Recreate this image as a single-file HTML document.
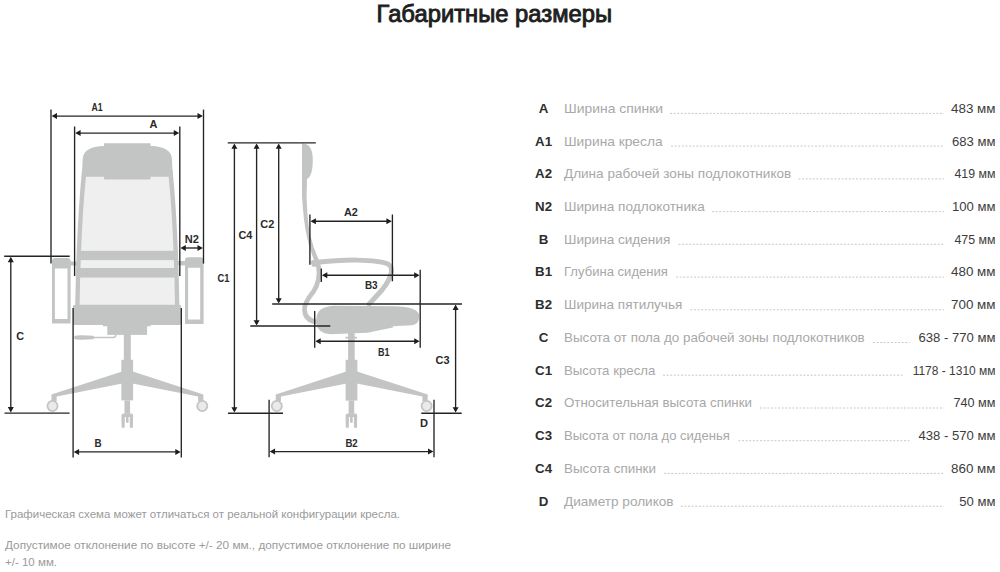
<!DOCTYPE html>
<html><head><meta charset="utf-8">
<style>
html,body{margin:0;padding:0;background:#fff;width:1000px;height:572px;overflow:hidden}
svg{display:block}
text{font-family:"Liberation Sans",sans-serif}
.title{font-size:23.5px;fill:#1e1e1e;stroke:#1e1e1e;stroke-width:0.9px}
.lab{font-weight:bold;font-size:13.3px;fill:#2e2e2e}
.desc{font-size:13.5px;fill:#a8a8a8}
.val{font-size:13px;fill:#3c3c3c}
.dots{stroke:#c9c9c9;stroke-width:1;stroke-dasharray:2 1.6}
.note{font-size:11.6px;fill:#9a9a9a}
.dl{font-weight:bold;font-size:11.5px;fill:#2a2a2a}
.ln{stroke:#242424;stroke-width:1.35;fill:none}
.ar{fill:#1e1e1e}
.ch{fill:#c3c5c5}
.chs{stroke:#c3c5c5;fill:none}
.mesh{fill:#efefef}
</style></head><body>
<svg width="1000" height="572" viewBox="0 0 1000 572">
<text x="376.6" y="21.8" class="title" textLength="235.5" lengthAdjust="spacingAndGlyphs">Габаритные размеры</text>
<text x="543.6" y="112.8" class="lab" text-anchor="middle">A</text>
<text x="564" y="112.8" class="desc" textLength="99.0" lengthAdjust="spacingAndGlyphs">Ширина спинки</text>
<line x1="670" y1="113.4" x2="944" y2="113.4" class="dots"/>
<text x="951" y="112.8" class="val" textLength="44.5" lengthAdjust="spacingAndGlyphs">483 мм</text>
<text x="543.6" y="145.5" class="lab" text-anchor="middle">A1</text>
<text x="564" y="145.5" class="desc" textLength="98.6" lengthAdjust="spacingAndGlyphs">Ширина кресла</text>
<line x1="671" y1="146.1" x2="944" y2="146.1" class="dots"/>
<text x="952" y="145.5" class="val" textLength="43.5" lengthAdjust="spacingAndGlyphs">683 мм</text>
<text x="543.6" y="178.3" class="lab" text-anchor="middle">A2</text>
<text x="564" y="178.3" class="desc" textLength="227.2" lengthAdjust="spacingAndGlyphs">Длина рабочей зоны подлокотников</text>
<line x1="798.4" y1="178.9" x2="944" y2="178.9" class="dots"/>
<text x="954.5" y="178.3" class="val" textLength="41.0" lengthAdjust="spacingAndGlyphs">419 мм</text>
<text x="543.6" y="211.0" class="lab" text-anchor="middle">N2</text>
<text x="564" y="211.0" class="desc" textLength="140.8" lengthAdjust="spacingAndGlyphs">Ширина подлокотника</text>
<line x1="712" y1="211.6" x2="944" y2="211.6" class="dots"/>
<text x="952" y="211.0" class="val" textLength="43.5" lengthAdjust="spacingAndGlyphs">100 мм</text>
<text x="543.6" y="243.7" class="lab" text-anchor="middle">B</text>
<text x="564" y="243.7" class="desc" textLength="106.3" lengthAdjust="spacingAndGlyphs">Ширина сидения</text>
<line x1="678.4" y1="244.3" x2="944" y2="244.3" class="dots"/>
<text x="954.5" y="243.7" class="val" textLength="41.0" lengthAdjust="spacingAndGlyphs">475 мм</text>
<text x="543.6" y="276.4" class="lab" text-anchor="middle">B1</text>
<text x="564" y="276.4" class="desc" textLength="103.9" lengthAdjust="spacingAndGlyphs">Глубина сидения</text>
<line x1="676" y1="277.1" x2="944" y2="277.1" class="dots"/>
<text x="951" y="276.4" class="val" textLength="44.5" lengthAdjust="spacingAndGlyphs">480 мм</text>
<text x="543.6" y="309.2" class="lab" text-anchor="middle">B2</text>
<text x="564" y="309.2" class="desc" textLength="118.3" lengthAdjust="spacingAndGlyphs">Ширина пятилучья</text>
<line x1="690.4" y1="309.8" x2="944" y2="309.8" class="dots"/>
<text x="951" y="309.2" class="val" textLength="44.5" lengthAdjust="spacingAndGlyphs">700 мм</text>
<text x="543.6" y="341.9" class="lab" text-anchor="middle">C</text>
<text x="564" y="341.9" class="desc" textLength="300.7" lengthAdjust="spacingAndGlyphs">Высота от пола до рабочей зоны подлокотников</text>
<line x1="872.9" y1="342.5" x2="909.8" y2="342.5" class="dots"/>
<text x="918.5" y="341.9" class="val" textLength="77.0" lengthAdjust="spacingAndGlyphs">638 - 770 мм</text>
<text x="543.6" y="374.6" class="lab" text-anchor="middle">C1</text>
<text x="564" y="374.6" class="desc" textLength="91.4" lengthAdjust="spacingAndGlyphs">Высота кресла</text>
<line x1="663" y1="375.2" x2="904" y2="375.2" class="dots"/>
<text x="912.7" y="374.6" class="val" textLength="82.8" lengthAdjust="spacingAndGlyphs">1178 - 1310 мм</text>
<text x="543.6" y="407.4" class="lab" text-anchor="middle">C2</text>
<text x="564" y="407.4" class="desc" textLength="187.9" lengthAdjust="spacingAndGlyphs">Относительная высота спинки</text>
<line x1="760" y1="408.0" x2="944" y2="408.0" class="dots"/>
<text x="953.5" y="407.4" class="val" textLength="42.0" lengthAdjust="spacingAndGlyphs">740 мм</text>
<text x="543.6" y="440.1" class="lab" text-anchor="middle">C3</text>
<text x="564" y="440.1" class="desc" textLength="165.8" lengthAdjust="spacingAndGlyphs">Высота от пола до сиденья</text>
<line x1="738.4" y1="440.7" x2="909.8" y2="440.7" class="dots"/>
<text x="918.5" y="440.1" class="val" textLength="77.0" lengthAdjust="spacingAndGlyphs">438 - 570 мм</text>
<text x="543.6" y="472.8" class="lab" text-anchor="middle">C4</text>
<text x="564" y="472.8" class="desc" textLength="91.9" lengthAdjust="spacingAndGlyphs">Высота спинки</text>
<line x1="664" y1="473.4" x2="944" y2="473.4" class="dots"/>
<text x="951" y="472.8" class="val" textLength="44.5" lengthAdjust="spacingAndGlyphs">860 мм</text>
<text x="543.6" y="505.6" class="lab" text-anchor="middle">D</text>
<text x="564" y="505.6" class="desc" textLength="109.6" lengthAdjust="spacingAndGlyphs">Диаметр роликов</text>
<line x1="680.8" y1="506.2" x2="944" y2="506.2" class="dots"/>
<text x="959.3" y="505.6" class="val" textLength="36.2" lengthAdjust="spacingAndGlyphs">50 мм</text>
<text x="5" y="517.5" class="note" textLength="395" lengthAdjust="spacingAndGlyphs">Графическая схема может отличаться от реальной конфигурации кресла.</text>
<text x="5" y="549" class="note" textLength="446" lengthAdjust="spacingAndGlyphs">Допустимое отклонение по высоте +/- 20 мм., допустимое отклонение по ширине</text>
<text x="5" y="566" class="note" textLength="52" lengthAdjust="spacingAndGlyphs">+/- 10 мм.</text>
<g class="ch">
<path d="M82,170 Q76.6,225 75.2,305.5 L179.4,305.5 Q178,225 172.6,170 Z"/>
</g>
<path class="mesh" d="M86,176 Q80.8,228 79.6,304.8 L175,304.8 Q173.8,228 168.6,176 Z"/>
<g class="ch">
<path d="M104,143.3 L150.6,143.3 L150.6,146 Q171.1,146.5 171.9,159 L172.8,176.8 L150.6,176.8 L150.4,179.4 L104.2,179.4 L104,176.8 L81.8,176.8 L82.7,159 Q83.5,146.5 104,146 Z"/>
<rect x="77" y="250.8" width="100.6" height="9.3"/>
<rect x="76.6" y="268" width="101.4" height="9.6"/>
<path d="M73.1,304.9 L180.9,304.9 L180.9,323.6 Q180.9,325.1 179.4,325.1 L150.7,325.1 L150.7,326.3 L103,326.3 L103,325.1 L74.6,325.1 Q73.1,325.1 73.1,323.6 Z"/>
<rect x="107.3" y="325" width="39.8" height="9.9"/>
<path d="M74.3,336.3 Q76,335.2 82,335.3 L93.5,335.8 L93.8,336.7 L113.5,336.7 Q115,336.5 115.4,334.5 L116.6,334.5 Q116.4,338 113.5,338.3 L93.8,338.3 L93.5,339.3 L82,339.8 Q76,339.9 74.3,338.8 Z"/>
<rect x="123.8" y="334" width="7" height="26.5"/>
<rect x="121.3" y="359.8" width="11.8" height="40.6"/>
<rect x="124.45" y="400.4" width="5.6" height="13.4"/><path d="M121.65,427.7 L121.45,415.6 Q121.45,413.4 123.45,413.4 L131.05,413.4 Q133.05,413.4 133.05,415.6 L132.85,427.7 L129.85,427.7 L129.75,417 L128.55,417 L128.55,422.8 L125.95,422.8 L125.95,417 L124.75,417 L124.65,427.7 Z"/>
<path d="M127.40,369.8 L203.40,394.5 L203.40,401 L198.10,401 L198.10,396.4 L127.40,382.5 Z M127.40,369.8 L51.40,394.5 L51.40,401 L56.70,401 L56.70,396.4 L127.40,382.5 Z"/>
</g>
<circle cx="52.50" cy="406" r="5.05" fill="#eaeaea" stroke="#c3c5c5" stroke-width="1.8"/>
<circle cx="202.30" cy="406" r="5.05" fill="#eaeaea" stroke="#c3c5c5" stroke-width="1.8"/>
<circle cx="276.80" cy="406" r="5.05" fill="#eaeaea" stroke="#c3c5c5" stroke-width="1.8"/>
<circle cx="426.60" cy="406" r="5.05" fill="#eaeaea" stroke="#c3c5c5" stroke-width="1.8"/>
<g class="ch">
<path d="M52,268 L52,261.2 Q52,258.1 55.2,258.1 L67.4,258.1 Q70.6,258.1 70.6,261.2 L70.6,268 Z"/>
<path d="M52,266 L70.6,266 L70.6,323.5 L52,323.5 Z M54.9,268.4 L54.9,318.9 L67.5,318.9 L67.5,268.4 Z" fill-rule="evenodd"/>
<rect x="69" y="261.5" width="8" height="4"/>
<path d="M185,267.4 L185,260.5 Q185,257.2 188.3,257.2 L200.3,257.2 Q203.6,257.2 203.6,260.5 L203.6,267.4 Z"/>
<path d="M185,266 L203.6,266 L203.6,324 L185,324 Z M188.1,267.6 L188.1,319.5 L200.2,319.5 L200.2,267.6 Z" fill-rule="evenodd"/>
<rect x="177.5" y="261" width="8" height="4.4"/>
</g>
<line class="ln" x1="51" y1="109.6" x2="51" y2="263.6"/>
<line class="ln" x1="203.5" y1="109.6" x2="203.5" y2="263.6"/>
<line class="ln" x1="53.6" y1="116.1" x2="200.9" y2="116.1"/>
<path class="ar" d="M51.6,116.1 L57.0,113.1 L57.0,119.1 Z M202.9,116.1 L197.5,113.1 L197.5,119.1 Z"/>
<text class="dl" x="91.6" y="110.8" textLength="11.1" lengthAdjust="spacingAndGlyphs">A1</text>
<line class="ln" x1="74.6" y1="126.5" x2="74.6" y2="276"/>
<line class="ln" x1="179.8" y1="126.5" x2="179.8" y2="276"/>
<line class="ln" x1="77.2" y1="133.1" x2="177.2" y2="133.1"/>
<path class="ar" d="M75.2,133.1 L80.60000000000001,130.1 L80.60000000000001,136.1 Z M179.2,133.1 L173.79999999999998,130.1 L173.79999999999998,136.1 Z"/>
<text class="dl" x="149.6" y="127.7" textLength="7.9" lengthAdjust="spacingAndGlyphs">A</text>
<line class="ln" x1="182.4" y1="248" x2="200.9" y2="248"/>
<path class="ar" d="M180.4,248 L185.8,245.0 L185.8,251.0 Z M202.9,248 L197.5,245.0 L197.5,251.0 Z"/>
<text class="dl" x="184.8" y="243" textLength="14.1" lengthAdjust="spacingAndGlyphs">N2</text>
<line class="ln" x1="4.2" y1="256.2" x2="69.7" y2="256.2"/>
<line class="ln" x1="4.5" y1="413.1" x2="69.6" y2="413.1"/>
<line class="ln" x1="10.8" y1="258.8" x2="10.8" y2="410.5"/>
<path class="ar" d="M10.8,256.8 L7.800000000000001,262.2 L13.8,262.2 Z M10.8,412.5 L7.800000000000001,407.1 L13.8,407.1 Z"/>
<text class="dl" x="16.3" y="339.7" textLength="7.8" lengthAdjust="spacingAndGlyphs">C</text>
<line class="ln" x1="73.1" y1="308" x2="73.1" y2="457.6"/>
<line class="ln" x1="181.3" y1="308" x2="181.3" y2="457.6"/>
<line class="ln" x1="75.7" y1="451.9" x2="178.7" y2="451.9"/>
<path class="ar" d="M73.7,451.9 L79.10000000000001,448.9 L79.10000000000001,454.9 Z M180.7,451.9 L175.29999999999998,448.9 L175.29999999999998,454.9 Z"/>
<text class="dl" x="94.4" y="447.2" textLength="7.1" lengthAdjust="spacingAndGlyphs">B</text>
<g class="ch">
<path d="M302,143.4 Q312.8,143 312.8,160 Q312.8,176 307,179 L306.6,196 Q307.5,225 310.5,236 Q314,250 319,260 L315,262 Q309.5,250 306.8,236 Q303.5,222 302,196 Z"/>
</g>
<g class="chs" stroke-linecap="round">
<path d="M313.5,262.8 Q340,259.8 357,260.1 Q380,260.6 388,264 Q392.5,267 391.3,272.5 Q390,280 382,290 Q373,300 369,304" stroke-width="4.9"/>
<path d="M318.5,266 C320,276 318.5,284 313.5,291.5 C306.5,300 304,305 304.5,310 C305,318 310,321 316.5,322" stroke-width="4.7"/>
</g>
<path class="ch" d="M311.6,260.5 Q316,259.5 320,260 L320,266.5 Q315,267 312.2,266.4 Q310.4,263.5 311.6,260.5 Z"/>
<g class="ch">
<path d="M334,305.8 L394,306.2 Q419.2,306.6 419.2,316 Q419.2,324.5 412,325.2 L393,326.2 L392.8,327.4 Q380,330 367.6,332.8 L330,334.2 Q318,333.5 316.5,324 Q315.5,316 319,311 Q324,306 334,305.8 Z"/>
<rect x="345.4" y="336.8" width="11.6" height="1.8"/>
<rect x="348.1" y="330" width="6.6" height="30.5"/>
<rect x="345.6" y="359.8" width="11.8" height="40.8"/>
<rect x="348.60" y="400.4" width="5.6" height="13.4"/><path d="M345.80,427.7 L345.60,415.6 Q345.60,413.4 347.60,413.4 L355.20,413.4 Q357.20,413.4 357.20,415.6 L357.00,427.7 L354.00,427.7 L353.90,417 L352.70,417 L352.70,422.8 L350.10,422.8 L350.10,417 L348.90,417 L348.80,427.7 Z"/>
<path d="M351.70,369.8 L427.70,394.5 L427.70,401 L422.40,401 L422.40,396.4 L351.70,382.5 Z M351.70,369.8 L275.70,394.5 L275.70,401 L281.00,401 L281.00,396.4 L351.70,382.5 Z"/>
</g>
<line class="ln" x1="227.7" y1="142.8" x2="315.8" y2="142.8"/>
<line class="ln" x1="234.4" y1="145.4" x2="234.4" y2="410.6"/>
<path class="ar" d="M234.4,143.4 L231.4,148.8 L237.4,148.8 Z M234.4,412.6 L231.4,407.20000000000005 L237.4,407.20000000000005 Z"/>
<line class="ln" x1="228" y1="413.2" x2="283" y2="413.2"/>
<text class="dl" x="217.5" y="282.2" textLength="11.9" lengthAdjust="spacingAndGlyphs">C1</text>
<line class="ln" x1="256.6" y1="145.4" x2="256.6" y2="323.6"/>
<path class="ar" d="M256.6,143.4 L253.60000000000002,148.8 L259.6,148.8 Z M256.6,325.6 L253.60000000000002,320.20000000000005 L259.6,320.20000000000005 Z"/>
<line class="ln" x1="250.3" y1="326" x2="330.3" y2="326"/>
<text class="dl" x="238.5" y="239.3" textLength="13.9" lengthAdjust="spacingAndGlyphs">C4</text>
<line class="ln" x1="278.7" y1="145.4" x2="278.7" y2="301.6"/>
<path class="ar" d="M278.7,143.4 L275.7,148.8 L281.7,148.8 Z M278.7,303.6 L275.7,298.20000000000005 L281.7,298.20000000000005 Z"/>
<line class="ln" x1="272.2" y1="304" x2="462" y2="304"/>
<text class="dl" x="260.3" y="228.3" textLength="14.0" lengthAdjust="spacingAndGlyphs">C2</text>
<line class="ln" x1="455.6" y1="306.6" x2="455.6" y2="410.6"/>
<path class="ar" d="M455.6,304.6 L452.6,310.0 L458.6,310.0 Z M455.6,412.6 L452.6,407.20000000000005 L458.6,407.20000000000005 Z"/>
<line class="ln" x1="421.3" y1="413.2" x2="461.7" y2="413.2"/>
<text class="dl" x="435.5" y="363.5" textLength="14.0" lengthAdjust="spacingAndGlyphs">C3</text>
<line class="ln" x1="309.9" y1="214.5" x2="309.9" y2="264.8"/>
<line class="ln" x1="392.4" y1="214.5" x2="392.4" y2="281.3"/>
<line class="ln" x1="312.5" y1="221.2" x2="389.8" y2="221.2"/>
<path class="ar" d="M310.5,221.2 L315.9,218.2 L315.9,224.2 Z M391.8,221.2 L386.40000000000003,218.2 L386.40000000000003,224.2 Z"/>
<text class="dl" x="344" y="216" textLength="13.9" lengthAdjust="spacingAndGlyphs">A2</text>
<line class="ln" x1="321.3" y1="268.6" x2="321.3" y2="282"/>
<line class="ln" x1="420.2" y1="269.8" x2="420.2" y2="347.7"/>
<line class="ln" x1="323.9" y1="275.2" x2="417.6" y2="275.2"/>
<path class="ar" d="M321.9,275.2 L327.29999999999995,272.2 L327.29999999999995,278.2 Z M419.6,275.2 L414.20000000000005,272.2 L414.20000000000005,278.2 Z"/>
<text class="dl" x="364.9" y="289" textLength="12.7" lengthAdjust="spacingAndGlyphs">B3</text>
<line class="ln" x1="314.7" y1="311" x2="314.7" y2="347.7"/>
<line class="ln" x1="317.3" y1="341.2" x2="417.6" y2="341.2"/>
<path class="ar" d="M315.3,341.2 L320.7,338.2 L320.7,344.2 Z M419.6,341.2 L414.20000000000005,338.2 L414.20000000000005,344.2 Z"/>
<text class="dl" x="378" y="355.6" textLength="11.5" lengthAdjust="spacingAndGlyphs">B1</text>
<line class="ln" x1="269.1" y1="399.7" x2="269.1" y2="457.3"/>
<line class="ln" x1="434" y1="399.7" x2="434" y2="457.3"/>
<line class="ln" x1="271.7" y1="451.6" x2="431.4" y2="451.6"/>
<path class="ar" d="M269.7,451.6 L275.09999999999997,448.6 L275.09999999999997,454.6 Z M433.4,451.6 L428.0,448.6 L428.0,454.6 Z"/>
<text class="dl" x="345.4" y="447" textLength="12.3" lengthAdjust="spacingAndGlyphs">B2</text>
<text class="dl" x="420" y="427.2" textLength="8.0" lengthAdjust="spacingAndGlyphs">D</text>
</svg>
</body></html>
